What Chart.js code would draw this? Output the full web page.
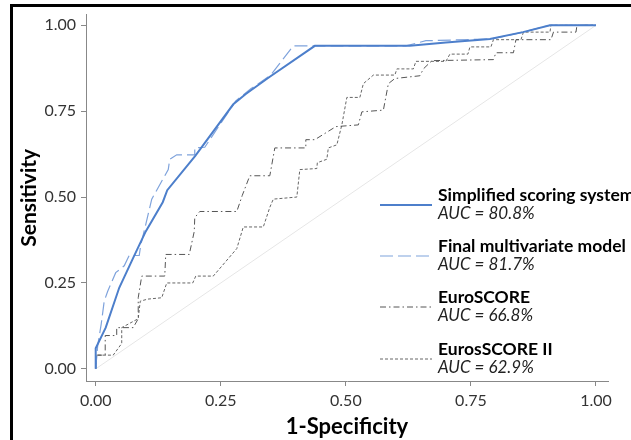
<!DOCTYPE html>
<html>
<head>
<meta charset="utf-8">
<script src="https://cdn.jsdelivr.net/npm/chart.js@4/dist/chart.umd.min.js"></script>
<style>
  html, body { margin: 0; padding: 0; background: #fff; }
  #wrap { position: relative; width: 631px; height: 440px; }
</style>
</head>
<body>
<div id="wrap"><canvas id="rocChart" width="631" height="440"></canvas></div>
<script>
// tick labels
const xTicks = [0, 0.25, 0.5, 0.75, 1];
const yTicks = [0, 0.25, 0.5, 0.75, 1];

// ROC curves (1-specificity, sensitivity)
const simplifiedX = [0, 0, 0.02, 0.047, 0.074, 0.10, 0.134, 0.143, 0.199, 0.275, 0.30, 0.348, 0.438, 0.628, 0.70, 0.788, 0.854, 0.908, 1];
const simplifiedY = [0, 0.06, 0.12, 0.236, 0.32, 0.40, 0.485, 0.52, 0.62, 0.77, 0.80, 0.85, 0.94, 0.94, 0.95, 0.96, 0.98, 1, 1];

const finalX = [0, 0.004, 0.011, 0.017, 0.024, 0.04, 0.057, 0.067, 0.087, 0.09, 0.10, 0.112, 0.145, 0.148, 0.162, 0.198, 0.198, 0.218, 0.28, 0.31, 0.35, 0.395, 0.62, 0.66, 0.79, 0.854, 0.908, 1];
const finalY = [0, 0.068, 0.13, 0.197, 0.226, 0.28, 0.30, 0.33, 0.33, 0.36, 0.42, 0.494, 0.58, 0.61, 0.623, 0.623, 0.643, 0.645, 0.78, 0.815, 0.855, 0.94, 0.94, 0.955, 0.96, 0.98, 1, 1];

const euroX = [0, 0.002, 0.019, 0.019, 0.042, 0.042, 0.075, 0.085, 0.085, 0.092, 0.138, 0.14, 0.187, 0.197, 0.198, 0.208, 0.282, 0.293, 0.308, 0.348, 0.358, 0.42, 0.42, 0.438, 0.48, 0.525, 0.532, 0.575, 0.585, 0.598, 0.648, 0.655, 0.672, 0.795, 0.80, 0.835, 0.84, 0.91, 0.915, 0.96, 0.962, 1];
const euroY = [0, 0.04, 0.04, 0.097, 0.097, 0.12, 0.12, 0.146, 0.207, 0.27, 0.27, 0.333, 0.333, 0.40, 0.44, 0.458, 0.458, 0.505, 0.562, 0.562, 0.643, 0.643, 0.667, 0.667, 0.705, 0.71, 0.748, 0.753, 0.83, 0.845, 0.853, 0.873, 0.897, 0.90, 0.92, 0.92, 0.958, 0.958, 0.98, 0.98, 1, 1];

const euro2X = [0, 0.002, 0.035, 0.052, 0.052, 0.085, 0.089, 0.104, 0.132, 0.142, 0.194, 0.2, 0.235, 0.282, 0.295, 0.335, 0.348, 0.355, 0.402, 0.408, 0.442, 0.443, 0.462, 0.465, 0.482, 0.492, 0.495, 0.502, 0.528, 0.535, 0.555, 0.598, 0.602, 0.635, 0.64, 0.70, 0.708, 0.744, 0.748, 0.79, 0.795, 0.85, 0.855, 0.908, 0.91, 1];
const euro2Y = [0, 0.04, 0.04, 0.074, 0.12, 0.146, 0.197, 0.203, 0.207, 0.25, 0.25, 0.27, 0.27, 0.35, 0.413, 0.413, 0.47, 0.494, 0.50, 0.58, 0.583, 0.60, 0.61, 0.643, 0.652, 0.71, 0.734, 0.79, 0.79, 0.83, 0.855, 0.855, 0.873, 0.873, 0.895, 0.895, 0.916, 0.916, 0.937, 0.937, 0.958, 0.958, 0.98, 0.98, 1, 1];

const refX = [0, 1];
const refY = [0, 1];

const seriesNames = ['Simplified scoring system', 'Final multivariate model', 'EuroSCORE', 'EurosSCORE II'];
const aucLabels = ['AUC = 80.8%', 'AUC = 81.7%', 'AUC = 66.8%', 'AUC = 62.9%'];

function pts(xs, ys) {
  return xs.map((x, i) => ({ x: x, y: ys[i] }));
}

const FONT = 'Lato, "Open Sans", sans-serif';

// black frame on the left and top of the figure
const framePlugin = {
  id: 'frame',
  afterDraw(chart) {
    const ctx = chart.ctx;
    ctx.save();
    ctx.fillStyle = '#000';
    ctx.fillRect(10, 4, 3, 436);
    ctx.fillRect(10, 4, 621, 3);
    ctx.restore();
  }
};

// legend drawn by hand: sample line on the left, name + AUC on the right
const rocLegend = {
  id: 'rocLegend',
  afterDraw(chart) {
    const ctx = chart.ctx;
    const rowY = [195, 246, 297, 349];
    ctx.save();
    seriesNames.forEach((name, i) => {
      const ds = chart.data.datasets[i];
      const y = rowY[i];
      ctx.beginPath();
      ctx.strokeStyle = ds.borderColor;
      ctx.lineWidth = ds.borderWidth;
      ctx.setLineDash(ds.borderDash || []);
      ctx.moveTo(380, y + 10);
      ctx.lineTo(432, y + 10);
      ctx.stroke();
      ctx.setLineDash([]);
      ctx.fillStyle = '#000';
      ctx.textBaseline = 'middle';
      ctx.textAlign = 'left';
      ctx.font = 'bold 17.5px ' + FONT;
      ctx.fillText(name, 438, y);
      ctx.fillStyle = '#222';
      ctx.font = 'italic 17px ' + FONT;
      ctx.fillText(aucLabels[i], 438, y + 19);
    });
    ctx.restore();
  }
};

const config = {
  type: 'scatter',
  data: {
    datasets: [
      {
        label: seriesNames[0],
        data: pts(simplifiedX, simplifiedY),
        borderColor: '#4d7fcb',
        borderWidth: 2,
        showLine: true,
        pointRadius: 0,
        tension: 0
      },
      {
        label: seriesNames[1],
        data: pts(finalX, finalY),
        borderColor: '#7fa3dc',
        borderWidth: 1.2,
        borderDash: [13, 5],
        showLine: true,
        pointRadius: 0
      },
      {
        label: seriesNames[2],
        data: pts(euroX, euroY),
        borderColor: '#555',
        borderWidth: 1,
        borderDash: [6, 3, 1.5, 3],
        showLine: true,
        pointRadius: 0
      },
      {
        label: seriesNames[3],
        data: pts(euro2X, euro2Y),
        borderColor: '#666',
        borderWidth: 1,
        borderDash: [3, 2],
        showLine: true,
        pointRadius: 0
      },
      {
        label: 'reference',
        data: pts(refX, refY),
        borderColor: '#e6e6e6',
        borderWidth: 1,
        showLine: true,
        pointRadius: 0
      }
    ]
  },
  options: {
    responsive: false,
    animation: false,
    layout: { padding: { left: 13, right: 23, top: 10, bottom: 0 } },
    plugins: {
      legend: { display: false },
      tooltip: { enabled: false }
    },
    scales: {
      x: {
        type: 'linear',
        min: -0.0194,
        max: 1.024,
        afterBuildTicks: (s) => { s.ticks = xTicks.map(v => ({ value: v })); },
        afterFit: (s) => { s.height = 59; },
        ticks: {
          callback: (v) => v.toFixed(2),
          color: '#333',
          font: { family: FONT, size: 16 },
          padding: 5,
          maxRotation: 0
        },
        grid: { drawOnChartArea: false, drawTicks: true, tickLength: 5, color: '#888' },
        border: { color: '#888', width: 1 },
        title: {
          display: true,
          text: '1-Specificity',
          color: '#000',
          font: { family: FONT, size: 22, weight: 'bold' },
          padding: { top: 0, bottom: 0 }
        }
      },
      y: {
        type: 'linear',
        min: -0.0353,
        max: 1.031,
        afterBuildTicks: (s) => { s.ticks = yTicks.map(v => ({ value: v })); },
        afterFit: (s) => { s.width = 73; },
        ticks: {
          callback: (v) => v.toFixed(2),
          color: '#333',
          font: { family: FONT, size: 16 },
          padding: 5
        },
        grid: { drawOnChartArea: false, drawTicks: true, tickLength: 5, color: '#888' },
        border: { color: '#888', width: 1 },
        title: {
          display: true,
          text: 'Sensitivity',
          color: '#000',
          font: { family: FONT, size: 21, weight: 'bold' },
          padding: { top: 4, bottom: 0 }
        }
      }
    }
  },
  plugins: [framePlugin, rocLegend]
};

const rocChart = new Chart(document.getElementById('rocChart'), config);
</script>
</body>
</html>
